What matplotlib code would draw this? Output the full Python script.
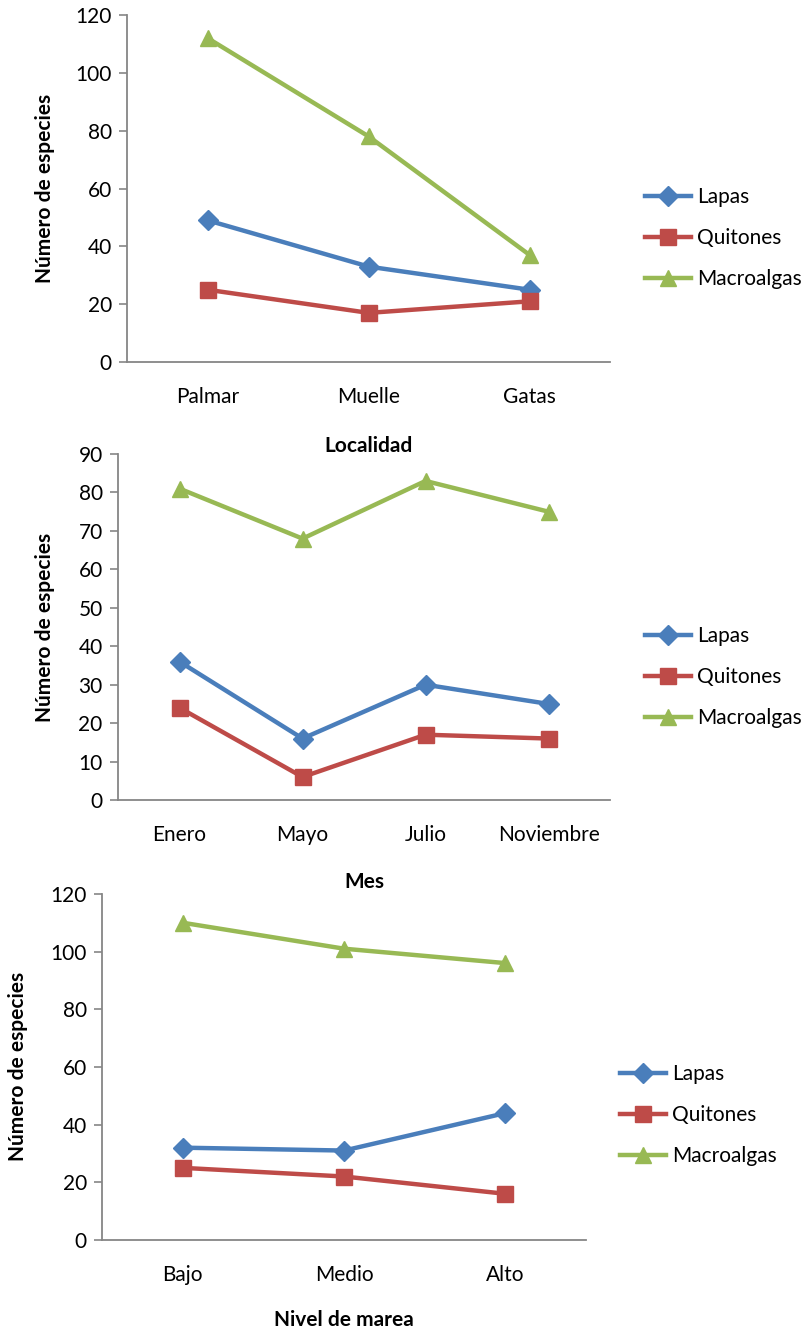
import matplotlib
matplotlib.use("Agg")
import matplotlib.pyplot as plt

plt.rcParams['font.family'] = ['Lato', 'DejaVu Sans']

# data
series = ["Lapas", "Quitones", "Macroalgas"]

localidad = ["Palmar", "Muelle", "Gatas"]
loc_lapas = [49, 33, 25]
loc_quitones = [25, 17, 21]
loc_macro = [112, 78, 37]

mes = ["Enero", "Mayo", "Julio", "Noviembre"]
mes_lapas = [36, 16, 30, 25]
mes_quitones = [24, 6, 17, 16]
mes_macro = [81, 68, 83, 75]

nivel = ["Bajo", "Medio", "Alto"]
niv_lapas = [32, 31, 44]
niv_quitones = [25, 22, 16]
niv_macro = [110, 101, 96]

colors = ["#4A7EBB", "#BE4B48", "#98B954"]
markers = ["D", "s", "^"]
msizes = [10, 11, 12]
grey = "#868686"

fig = plt.figure(figsize=(8.04, 13.35), dpi=100)


def panel(rect, cats, vals, ymax, ystep, xlabel, ylab_x, xlab_y, leg_xy):
    ax = fig.add_axes(rect)
    x = list(range(len(cats)))
    for i in range(3):
        ax.plot(x, vals[i], color=colors[i], marker=markers[i], markersize=msizes[i],
                linewidth=3.2, label=series[i], clip_on=False, zorder=3)
    ax.set_xlim(-0.5, len(cats) - 0.5)
    ax.set_ylim(0, ymax)
    ax.set_yticks(range(0, ymax + 1, ystep))
    ax.set_xticks(x)
    ax.set_xticklabels(cats)
    for s in ["top", "right"]:
        ax.spines[s].set_visible(False)
    for s in ["left", "bottom"]:
        ax.spines[s].set_color(grey)
        ax.spines[s].set_linewidth(1.3)
    ax.tick_params(axis="y", length=6, width=1.2, color=grey, labelsize=15, pad=5)
    ax.tick_params(axis="x", length=0, labelsize=15, pad=18)
    fig.text(ylab_x, rect[1] + rect[3] / 2, "Número de especies", rotation=90,
             ha="center", va="center", fontsize=15, fontweight="bold")
    fig.text(rect[0] + rect[2] / 2, xlab_y, xlabel, ha="center", va="center",
             fontsize=15, fontweight="bold")
    ax.legend(loc="center left", bbox_to_anchor=leg_xy, bbox_transform=fig.transFigure,
              frameon=False, fontsize=15, handlelength=2.2, labelspacing=1.0,
              handletextpad=0.3, borderpad=0, borderaxespad=0)
    return ax


panel([0.158, 0.7288, 0.601, 0.26], localidad, [loc_lapas, loc_quitones, loc_macro],
      120, 20, "Localidad", 0.056, 1 - 446 / 1335, (0.802, 1 - 238 / 1335))
panel([0.1468, 0.4007, 0.612, 0.2592], mes, [mes_lapas, mes_quitones, mes_macro],
      90, 10, "Mes", 0.056, 1 - 882 / 1335, (0.802, 1 - 677 / 1335))
panel([0.127, 0.0712, 0.602, 0.2592], nivel, [niv_lapas, niv_quitones, niv_macro],
      120, 20, "Nivel de marea", 0.023, 1 - 1320 / 1335, (0.771, 1 - 1115 / 1335))

fig.savefig("out.png", dpi=100)
